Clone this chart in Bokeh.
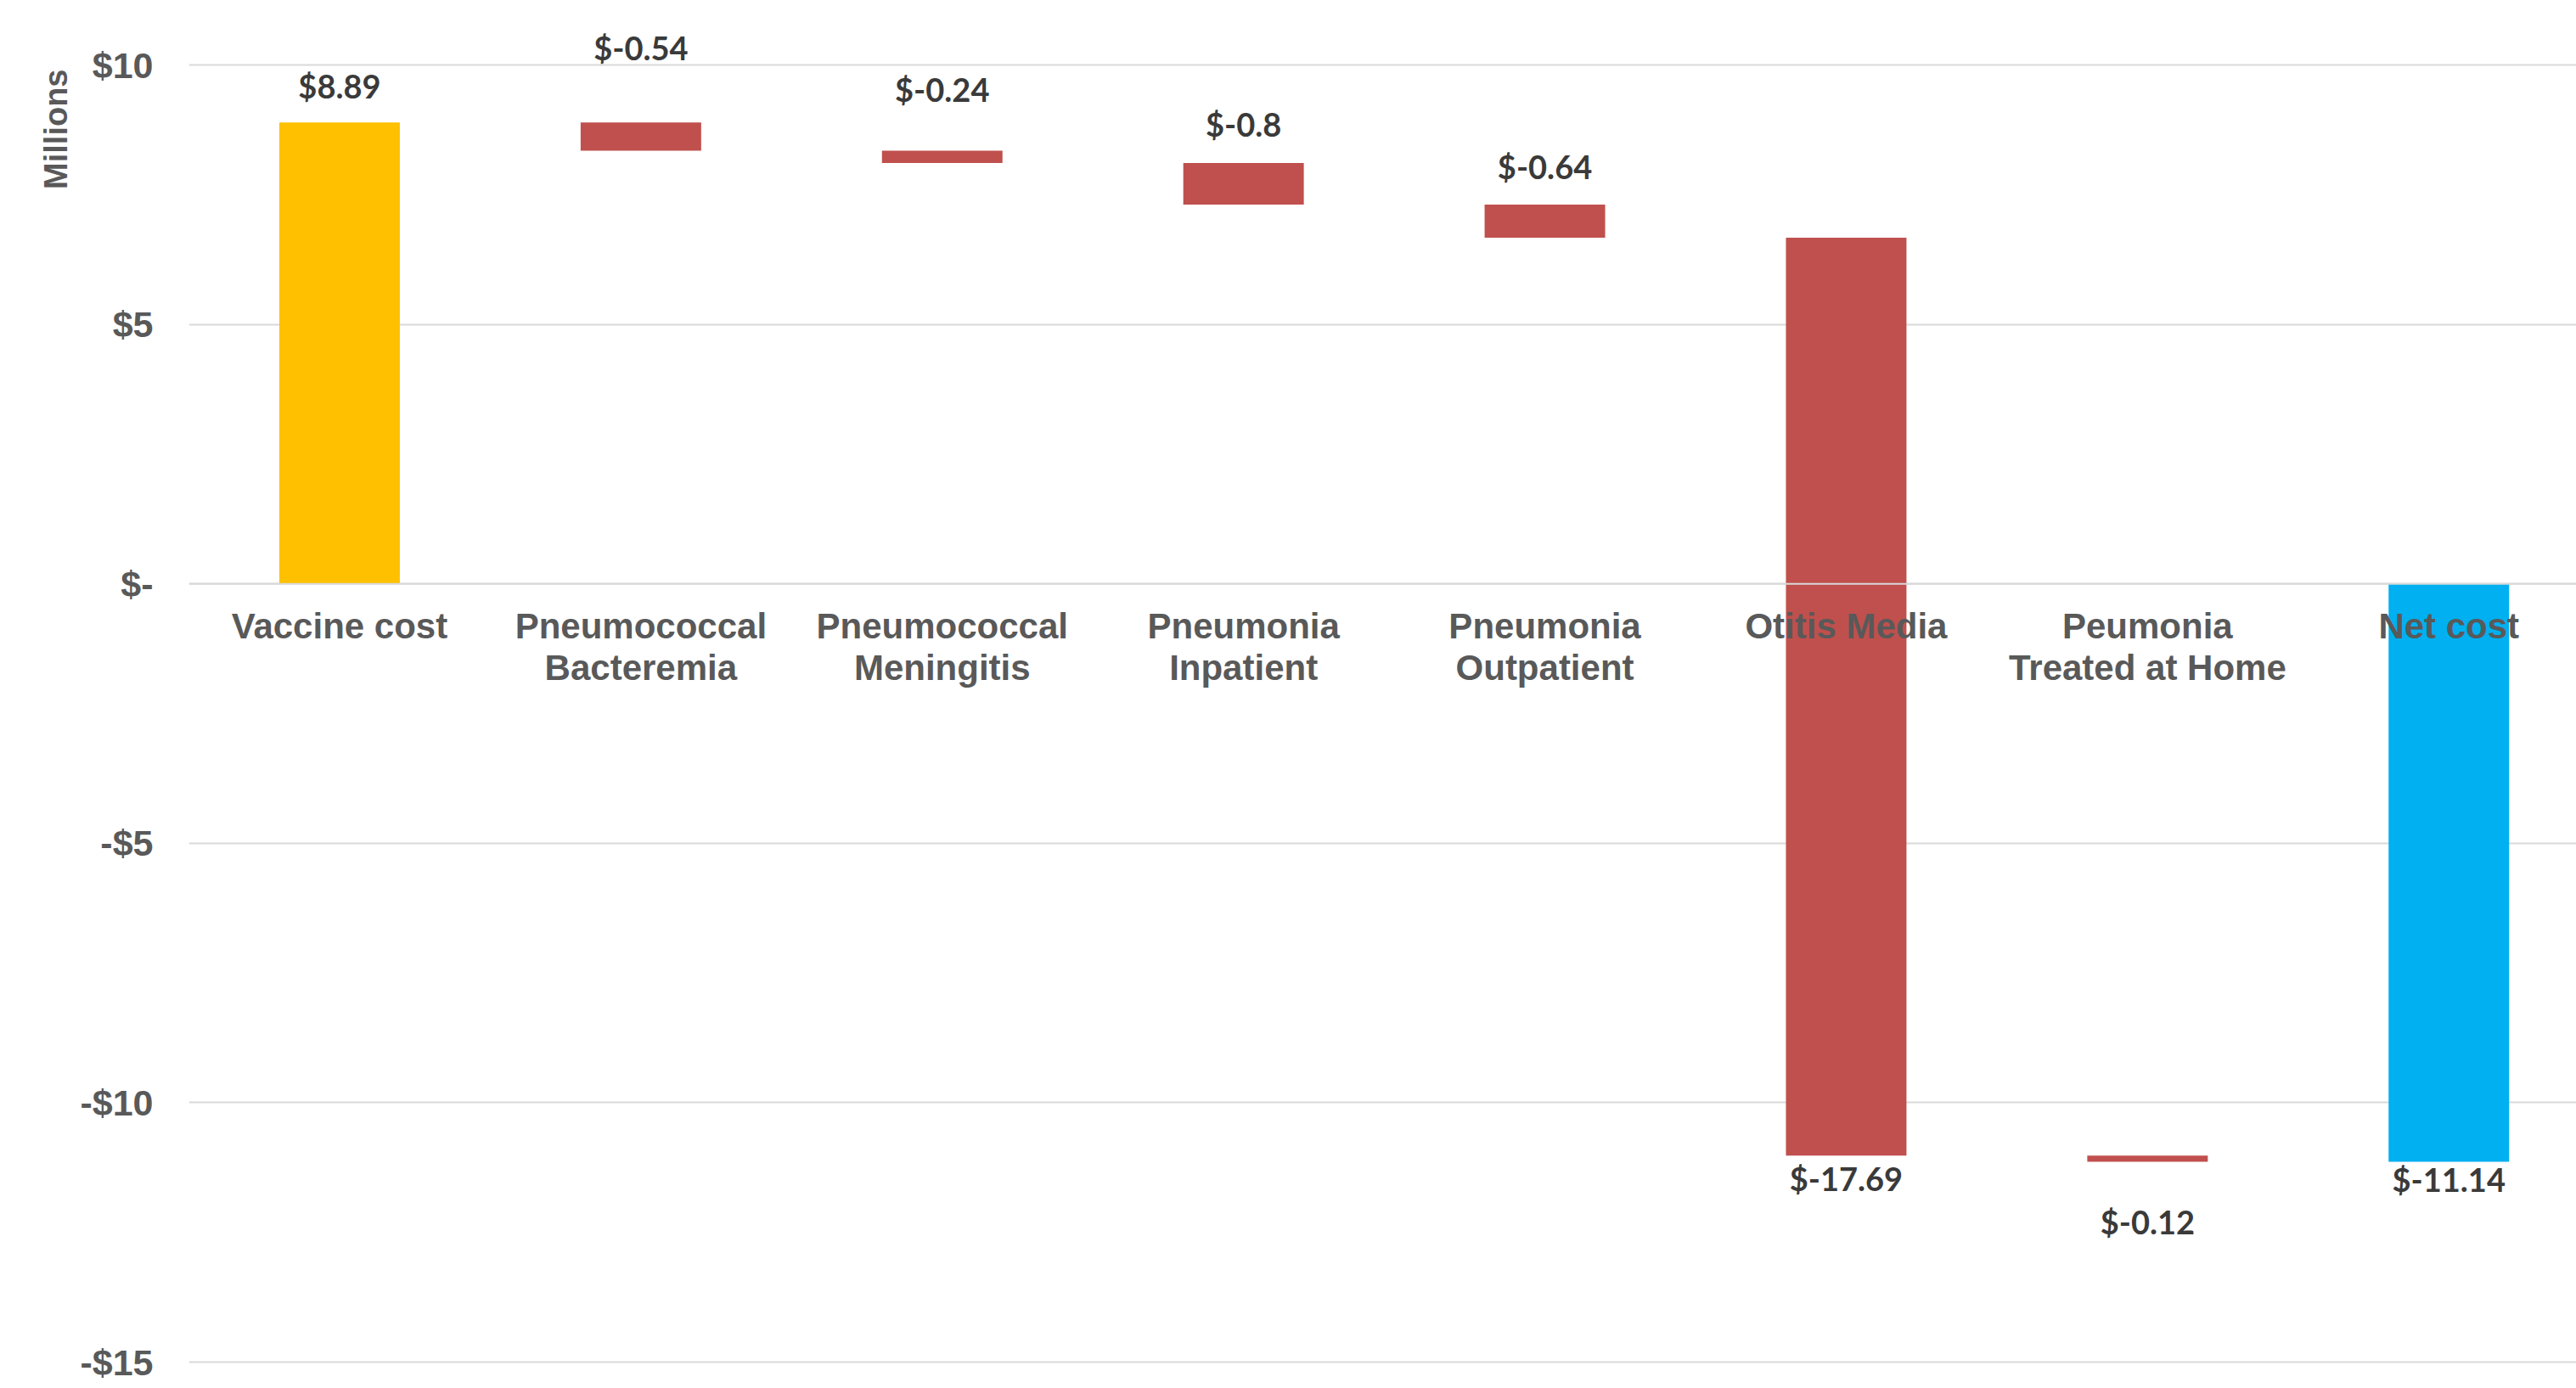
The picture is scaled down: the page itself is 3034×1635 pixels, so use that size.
import math
from bokeh.plotting import figure
from bokeh.models import Range1d, FixedTicker, Span, Title, ColumnDataSource
from bokeh.core.properties import value
from bokeh.embed import file_html
from bokeh.resources import INLINE

# ---------------- data ----------------
categories = ["Vaccine cost", "Pneumococcal\nBacteremia", "Pneumococcal\nMeningitis",
              "Pneumonia\nInpatient", "Pneumonia\nOutpatient", "Otitis Media",
              "Peumonia\nTreated at Home", "Net cost"]
changes = [8.89, -0.54, -0.24, -0.80, -0.64, -17.69, -0.12]   # $ millions
net_cost = -11.14
y_ticks = [-15, -10, -5, 0, 5, 10]
y_tick_labels = ["-$15", "-$10", "-$5", "$-", "$5", "$10"]

# ---------------- styles ----------------
bar_colors = ["#FFC000", "#C0504D", "#C0504D", "#C0504D", "#C0504D", "#C0504D", "#C0504D", "#00B0F0"]
label_above = [True, True, True, True, True, False, False, False]
label_gap_px = [43, 88, 72, 46, 45, 27, 70, 20]

W, H = 3034, 1635
LEFT = 222
PX_X = 354.9
Y0, Y1 = -15.507, 11.244
PX_Y = H / (Y1 - Y0)

# waterfall geometry
bottoms, tops = [], []
run = 0.0
for c in changes:
    bottoms.append(run)
    run += c
    tops.append(run)
bottoms.append(0.0)
tops.append(net_cost)
values = changes + [net_cost]
xs = list(range(len(categories)))

lab_y = []
for i in range(len(values)):
    hi = max(bottoms[i], tops[i])
    lo = min(bottoms[i], tops[i])
    if label_above[i]:
        lab_y.append(hi + label_gap_px[i] / PX_Y)
    else:
        lab_y.append(lo - label_gap_px[i] / PX_Y)
lab_text = ["$" + f"{v:g}" for v in values]

src = ColumnDataSource(dict(x=xs, bottom=bottoms, top=tops, color=bar_colors,
                            ly=lab_y, lt=lab_text, cat=categories,
                            cy=[-26 / PX_Y] * len(xs)))

p = figure(width=W, height=H,
           x_range=Range1d(-0.5, -0.5 + (W - LEFT) / PX_X),
           y_range=Range1d(Y0, Y1),
           output_backend="svg", toolbar_location=None, x_axis_location=None,
           min_border_left=LEFT, min_border_right=0, min_border_top=0, min_border_bottom=0)
p.outline_line_color = None
p.background_fill_color = "white"
p.border_fill_color = "white"
p.xgrid.visible = False
p.ygrid.ticker = FixedTicker(ticks=y_ticks)
p.ygrid.grid_line_color = "#D9D9D9"
p.ygrid.grid_line_width = 2

ax = p.yaxis[0]
ax.ticker = FixedTicker(ticks=y_ticks)
ax.major_label_overrides = {t: l for t, l in zip(y_ticks, y_tick_labels)}
ax.axis_line_color = None
ax.major_tick_line_color = None
ax.minor_tick_line_color = None
ax.major_label_text_font = "Liberation Sans"
ax.major_label_text_font_style = "bold"
ax.major_label_text_font_size = "43px"
ax.major_label_text_color = "#595959"
ax.major_label_standoff = 36

p.vbar(x="x", bottom="bottom", top="top", width=0.40, fill_color="color",
       line_color=None, source=src)

p.add_layout(Span(location=0, dimension="width", line_color="#D9D9D9", line_width=2))

p.text(x="x", y="cy", text="cat", source=src, text_align="center", text_baseline="top",
       text_font=value("Liberation Sans"), text_font_style="bold", text_font_size="42px",
       text_color="#595959", text_line_height=1.05)

p.text(x="x", y="ly", text="lt", source=src, text_align="center", text_baseline="middle",
       text_font=value("Lato"), text_font_style="bold", text_font_size="38px",
       text_color="#3a3a3a")

p.add_layout(Title(text="Millions", align="right", text_font="Liberation Sans",
                   text_font_style="bold", text_font_size="38px", text_color="#595959",
                   offset=81), "left")

open("out.html", "w").write(file_html(p, INLINE))
